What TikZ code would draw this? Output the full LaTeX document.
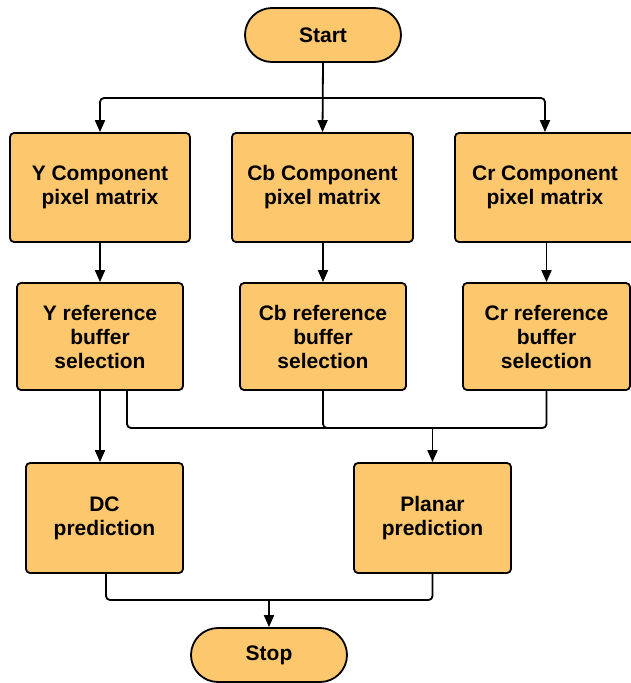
\documentclass[tikz,border=0pt]{standalone}
\usepackage{fontspec}
\setmainfont{Liberation Sans}
\usetikzlibrary{arrows.meta}
\definecolor{boxfill}{RGB}{253,199,110}
\tikzset{
  x=1pt, y=-1pt,
  box/.style={draw=black, line width=1.8pt, fill=boxfill, rounded corners=4pt,
    minimum width=#1, align=center, inner sep=0pt,
    font=\fontsize{21}{24}\selectfont\bfseries},
  box/.default=166pt,
  term/.style={draw=black, line width=1.8pt, fill=boxfill, rounded corners=27pt,
    minimum width=156pt, minimum height=54pt, inner sep=0pt,
    font=\fontsize{21}{24}\selectfont\bfseries},
  conn/.style={line width=1.8pt, rounded corners=4pt},
  arr/.style={conn, -{Triangle[length=12pt,width=10pt]}}
}
\begin{document}
\begin{tikzpicture}
\useasboundingbox (0,0) rectangle (631,683);
\node[term] (start) at (323,35) {Start};
\node[box=180pt, minimum height=109pt] (y1) at (100,187.5) {Y Component\\pixel matrix};
\node[box=181pt, minimum height=109pt] (cb1) at (322.5,187.5) {Cb Component\\pixel matrix};
\node[box=180pt, minimum height=109pt] (cr1) at (545,187.5) {Cr Component\\pixel matrix};
\node[box=166pt, minimum height=107pt] (yr) at (100,336.5) {Y reference\\buffer\\selection};
\node[box=166pt, minimum height=107pt] (cbr) at (323,336.5) {Cb reference\\buffer\\selection};
\node[box=167pt, minimum height=107pt] (crr) at (546.5,336.5) {Cr reference\\buffer\\selection};
\node[box=157pt, minimum height=110pt] (dc) at (104.5,518) {DC\\prediction};
\node[box=157pt, minimum height=110pt] (pl) at (432.5,518) {Planar\\prediction};
\node[term] (stop) at (269,655) {Stop};
\coordinate (j1) at (323,98);
\coordinate (j2) at (432.5,428);
\coordinate (j3) at (269,600);
\draw[arr] (start.south) -- (cb1.north);
\draw[arr] (j1) -| (y1.north);
\draw[arr] (j1) -| (cr1.north);
\draw[arr] (y1.south) -- (yr.north);
\draw[arr] (cb1.south -| cbr.north) -- (cbr.north);
\draw[arr] (cr1.south -| crr.north) -- (crr.north);
\draw[arr] (yr.south) -- (dc.north -| yr.south);
\draw[conn] ([xshift=27pt]yr.south) |- (j2);
\draw[conn] (cbr.south) |- (j2);
\draw[conn] (crr.south) |- (j2);
\draw[arr] (j2) -- (pl.north);
\draw[conn] ([xshift=1.5pt]dc.south) |- (j3);
\draw[conn] (pl.south) |- (j3);
\draw[arr] (j3) -- (stop.north);
\end{tikzpicture}
\end{document}
